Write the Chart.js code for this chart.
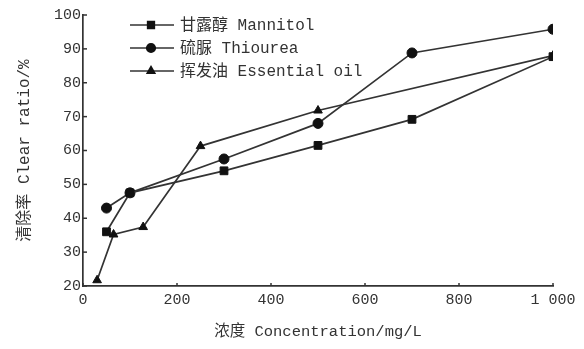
<!DOCTYPE html>
<html>
<head>
<meta charset="utf-8">
<script src="https://cdn.jsdelivr.net/npm/chart.js@4"></script>
<style>
  html, body { margin: 0; padding: 0; background: #fff; }
  #wrap { width: 584px; height: 349px; }
</style>
</head>
<body>
<div id="wrap"><canvas id="chart"></canvas></div>
<script>
// data
const mannitolX = [50, 100, 300, 500, 700, 1000];
const mannitolY = [36, 47.5, 54, 61.5, 69.2, 87.7];
const thioureaX = [50, 100, 300, 500, 700, 1000];
const thioureaY = [43, 47.5, 57.5, 68, 88.8, 95.8];
const oilX = [30, 65, 128, 250, 500, 1000];
const oilY = [21.7, 35.2, 37.4, 61.3, 71.8, 88];
const seriesNames = ['甘露醇 Mannitol', '硫脲 Thiourea', '挥发油 Essential oil'];
const markers = ['rect', 'circle', 'triangle'];

const FONT = "'Liberation Mono', 'Noto Sans CJK SC', monospace";
const INK = '#333';

function pts(xs, ys) {
  return xs.map((x, i) => ({ x: x, y: ys[i] }));
}

const sizes = [5.5, 5, 5];
const datasets = [pts(mannitolX, mannitolY), pts(thioureaX, thioureaY), pts(oilX, oilY)].map((d, i) => ({
  label: seriesNames[i],
  data: d,
  borderColor: INK,
  backgroundColor: '#111',
  borderWidth: 1.7,
  pointStyle: markers[i],
  pointRadius: sizes[i],
  pointBorderWidth: 1,
  pointBorderColor: '#111',
  tension: 0
}));

// small ticks drawn inside the axes
const innerTicks = {
  id: 'innerTicks',
  afterDraw(chart) {
    const ctx = chart.ctx;
    const xs = chart.scales.x, ys = chart.scales.y;
    ctx.save();
    ctx.strokeStyle = INK;
    ctx.lineWidth = 1.5;
    xs.ticks.forEach(t => {
      const px = xs.getPixelForValue(t.value);
      ctx.beginPath();
      ctx.moveTo(px, ys.bottom);
      ctx.lineTo(px, ys.bottom - 3);
      ctx.stroke();
    });
    ys.ticks.forEach(t => {
      const py = ys.getPixelForValue(t.value);
      ctx.beginPath();
      ctx.moveTo(xs.left, py);
      ctx.lineTo(xs.left + 4, py);
      ctx.stroke();
    });
    ctx.restore();
  }
};

// legend in the upper left of the plot
const innerLegend = {
  id: 'innerLegend',
  afterDraw(chart) {
    const ctx = chart.ctx;
    ctx.save();
    ctx.font = '16px ' + FONT;
    ctx.textBaseline = 'middle';
    chart.data.datasets.forEach((ds, i) => {
      const y = 25 + i * 23;
      ctx.strokeStyle = INK;
      ctx.lineWidth = 1.7;
      ctx.beginPath();
      ctx.moveTo(130, y);
      ctx.lineTo(174, y);
      ctx.stroke();
      ctx.fillStyle = '#111';
      ctx.strokeStyle = '#111';
      Chart.helpers.drawPoint(ctx, { pointStyle: ds.pointStyle, radius: ds.pointRadius * 0.85, rotation: 0, borderWidth: 1 }, 151, y);
      ctx.fillStyle = INK;
      ctx.fillText(ds.label, 180, y + 1);
    });
    ctx.restore();
  }
};

new Chart(document.getElementById('chart'), {
  type: 'line',
  data: { datasets: datasets },
  options: {
    responsive: true,
    maintainAspectRatio: false,
    animation: false,
    layout: { padding: { top: 15, right: 31, bottom: 0, left: 0 } },
    plugins: { legend: { display: false }, tooltip: { enabled: false } },
    scales: {
      x: {
        type: 'linear',
        min: 0, max: 1000,
        ticks: {
          stepSize: 200,
          color: INK,
          font: { family: FONT, size: 15 },
          padding: 5,
          maxRotation: 0,
          callback: v => v === 1000 ? '1 000' : String(v)
        },
        grid: { display: false, drawTicks: false },
        border: { display: true, color: INK, width: 1.7 },
        title: {
          display: true,
          text: '浓度 Concentration/mg/L',
          color: INK,
          font: { family: FONT, size: 15.5 },
          padding: { top: 4, bottom: 8 }
        },
        afterFit(s) { s.height = 63; }
      },
      y: {
        min: 20, max: 100,
        ticks: {
          stepSize: 10,
          color: INK,
          font: { family: FONT, size: 15 },
          padding: 2
        },
        grid: { display: false, drawTicks: false },
        border: { display: true, color: INK, width: 1.7 },
        title: {
          display: true,
          text: '清除率 Clear ratio/%',
          color: INK,
          font: { family: FONT, size: 16 },
          padding: { top: 15, bottom: 4 }
        },
        afterFit(s) { s.width = 83; }
      }
    }
  },
  plugins: [innerTicks, innerLegend]
});
</script>
</body>
</html>
